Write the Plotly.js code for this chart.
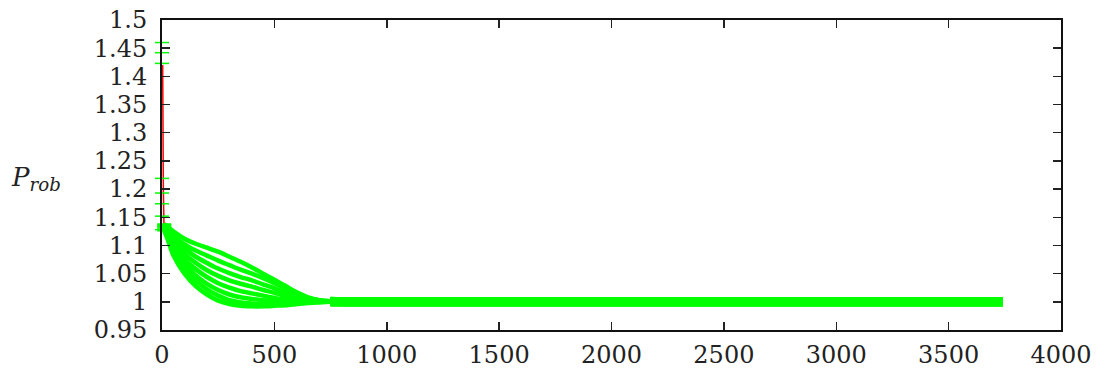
<!DOCTYPE html>
<html>
<head>
<meta charset="utf-8">
<script src="https://cdn.plot.ly/plotly-3.0.1.min.js"></script>
<style>html,body{margin:0;padding:0;background:#fff;}#chart{width:1111px;height:374px;}</style>
</head>
<body>
<div id="chart"></div>
<script>
// shared x positions (iterations)
const xs = [0, 10, 25, 50, 100, 150, 200, 250, 300, 350, 400, 450, 500, 550, 600, 650, 700, 750, 800, 3740];

// green series (P_rob per run); first value is the sample at x = 0
const run1 = [1.460, 1.138, 1.133, 1.125, 1.112, 1.103, 1.096, 1.089, 1.080, 1.071, 1.061, 1.050, 1.039, 1.028, 1.017, 1.008, 1.003, 1.001, 1.000, 1.000];
const run2 = [1.442, 1.137, 1.130, 1.119, 1.102, 1.091, 1.082, 1.073, 1.065, 1.057, 1.050, 1.042, 1.033, 1.023, 1.014, 1.007, 1.003, 1.001, 1.000, 1.000];
const run3 = [1.423, 1.136, 1.128, 1.114, 1.094, 1.080, 1.069, 1.059, 1.051, 1.044, 1.038, 1.031, 1.024, 1.016, 1.010, 1.005, 1.002, 1.000, 1.000, 1.000];
const run4 = [1.219, 1.134, 1.125, 1.109, 1.085, 1.069, 1.056, 1.046, 1.038, 1.032, 1.027, 1.021, 1.016, 1.010, 1.006, 1.003, 1.001, 1.000, 1.000, 1.000];
const run5 = [1.193, 1.133, 1.122, 1.104, 1.076, 1.058, 1.044, 1.033, 1.025, 1.019, 1.015, 1.011, 1.007, 1.004, 1.002, 1.001, 1.000, 1.000, 1.000, 1.000];
const run6 = [1.174, 1.131, 1.119, 1.098, 1.068, 1.047, 1.032, 1.021, 1.013, 1.008, 1.005, 1.003, 1.001, 1.000, 1.000, 1.000, 1.000, 1.000, 1.000, 1.000];
const run7 = [1.152, 1.129, 1.116, 1.092, 1.060, 1.038, 1.022, 1.011, 1.003, 0.999, 0.997, 0.996, 0.996, 0.997, 0.998, 0.999, 1.000, 1.000, 1.000, 1.000];
const run8 = [1.128, 1.126, 1.111, 1.083, 1.050, 1.028, 1.013, 1.002, 0.996, 0.993, 0.992, 0.992, 0.993, 0.994, 0.996, 0.998, 0.999, 1.000, 1.000, 1.000];

// red series
const redX = [3, 4, 6, 9];
const redY = [1.42, 1.30, 1.20, 1.13];

// tick labels
const yTickVals = [0.95, 1, 1.05, 1.1, 1.15, 1.2, 1.25, 1.3, 1.35, 1.4, 1.45, 1.5];
const yTickText = ["0.95", "1", "1.05", "1.1", "1.15", "1.2", "1.25", "1.3", "1.35", "1.4", "1.45", "1.5"];
const xTickVals = [0, 500, 1000, 1500, 2000, 2500, 3000, 3500, 4000];
const xTickText = ["0", "500", "1000", "1500", "2000", "2500", "3000", "3500", "4000"];

const GREEN = '#00ff00';
const runs = [run1, run2, run3, run4, run5, run6, run7, run8];
const traces = [{
  x: redX, y: redY, mode: 'lines', line: {color: '#ff0000', width: 1.5}, showlegend: false, hoverinfo: 'skip'
}];
const n = xs.length;
const tailStart = xs.indexOf(750);
runs.forEach(r => {
  traces.push({
    x: xs.slice(1, n - 1), y: r.slice(1, n - 1), mode: 'lines',
    line: {color: GREEN, width: 4.5, shape: 'spline', smoothing: 0.7},
    showlegend: false, hoverinfo: 'skip'
  });
  traces.push({
    x: xs.slice(tailStart), y: r.slice(tailStart), mode: 'lines',
    line: {color: GREEN, width: 9},
    showlegend: false, hoverinfo: 'skip'
  });
  traces.push({
    x: xs.slice(0, 2), y: r.slice(0, 2), mode: 'markers',
    marker: {symbol: 'line-ew', size: 10, line: {color: GREEN, width: 1.5}},
    showlegend: false, hoverinfo: 'skip', cliponaxis: false
  });
});

const FAM = 'DejaVu Serif';
const layout = {
  width: 1111, height: 374,
  margin: {l: 162, r: 50, t: 20, b: 44, pad: 0},
  paper_bgcolor: '#fff', plot_bgcolor: '#fff',
  font: {family: FAM, size: 24, color: '#222'},
  showlegend: false,
  xaxis: {
    range: [0, 4000], tickvals: xTickVals, ticktext: xTickText,
    ticks: 'inside', ticklen: 8, tickwidth: 1.5, tickcolor: '#222',
    showline: true, linecolor: '#111', linewidth: 2, mirror: 'ticks',
    showgrid: false, zeroline: false, ticklabelstandoff: 2,
    tickfont: {family: FAM, size: 24, color: '#222'}
  },
  yaxis: {
    range: [0.95, 1.5], tickvals: yTickVals, ticktext: yTickText,
    ticks: 'inside', ticklen: 8, tickwidth: 1.5, tickcolor: '#222',
    showline: true, linecolor: '#111', linewidth: 2, mirror: 'ticks',
    showgrid: false, zeroline: false, ticklabelstandoff: 8,
    tickfont: {family: FAM, size: 24, color: '#222'}
  },
  annotations: [{
    xref: 'paper', yref: 'paper', x: -0.170, y: 0.49, xanchor: 'left', yanchor: 'middle',
    text: '<i>P</i><sub><i>rob</i></sub>', showarrow: false,
    font: {family: FAM, size: 26, color: '#222'}
  }]
};
Plotly.newPlot('chart', traces, layout, {staticPlot: true, displayModeBar: false});
</script>
</body>
</html>
